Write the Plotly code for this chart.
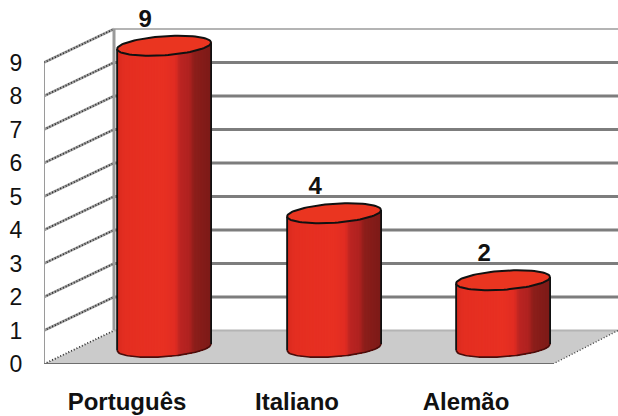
import numpy as np
import plotly.graph_objects as go

# Chart data
categories = ["Português", "Italiano", "Alemão"]
values = [9, 4, 2]
y_ticks = [0, 1, 2, 3, 4, 5, 6, 7, 8, 9]

# Oblique projection of the chart box
W, H = 618, 416
M_L, M_B = 44, 52
UNIT_PX = 33.5            # pixels per value unit
SHEAR_X = 70              # horizontal shift from the front plane to the back wall
SHEAR_V = 1.0             # vertical shift of the same, in value units
BAR_DEPTH = 0.53          # depth of the cylinder axes, 0 = front, 1 = back
BAR_LIFT = 0.5            # height of the cylinder bases above the front floor edge
FRONT_POS = [127, 297, 466]
RADIUS = 47
CAP_B = 9.5 / UNIT_PX
CAP_TILT = 3.2 / UNIT_PX
FLOOR_RIGHT = 553
RIGHT_EDGE = 618

STOPS_U = [0, 0.03, 0.08, 0.5, 0.62, 0.67, 0.77, 0.82, 1.0]
STOPS_C = [(190, 38, 28), (222, 44, 32), (228, 46, 33), (232, 48, 34), (224, 44, 34),
           (186, 36, 34), (176, 34, 32), (140, 30, 26), (124, 26, 24)]


def project(x, v, depth):
    return x + SHEAR_X * depth, v + SHEAR_V * depth


def shade(u):
    return "rgb(%d,%d,%d)" % tuple(
        round(float(np.interp(u, STOPS_U, [c[i] for c in STOPS_C]))) for i in range(3))


fig = go.Figure()


def poly(xs, ys, fill, line=None, width=0):
    fig.add_trace(go.Scatter(
        x=list(xs), y=list(ys), mode="lines", fill="toself", fillcolor=fill,
        line=dict(color=line or fill, width=width), hoverinfo="skip", cliponaxis=False))


def path(xs, ys, color, width, dash=None):
    fig.add_trace(go.Scatter(
        x=list(xs), y=list(ys), mode="lines",
        line=dict(color=color, width=width, dash=dash),
        hoverinfo="skip", cliponaxis=False))


# Floor
bx0, bv0 = project(M_L, 0, 1)
poly([M_L, FLOOR_RIGHT, RIGHT_EDGE, bx0], [0, 0, bv0, bv0], "#cbcbcb")

# Back wall gridlines, side wall gridlines
for t in y_ticks:
    bx, bv = project(M_L, t, 1)
    top = t == y_ticks[-1]
    path([bx, RIGHT_EDGE], [bv, bv], "#b4b4b4" if top or t == 0 else "#7d7d7d",
         2 if top or t == 0 else 3)
    if t > 0:
        path([M_L, bx], [t, bv], "#a0a0a0", 2.5)
    path([M_L, bx], [t, bv], "#2a2a2a", 1.8, "1px,2px")

# Wall uprights and floor edges
path([M_L, M_L], [0, y_ticks[-1]], "#9a9a9a", 2)
path([bx0, bx0], [bv0, bv0 + y_ticks[-1]], "#9a9a9a", 3)
path([FLOOR_RIGHT, RIGHT_EDGE], [0, bv0], "#444444", 1.4, "1px,2px")
path([M_L, FLOOR_RIGHT], [0, 0], "#6e6e6e", 2)

# Cylinders
for pos, val in zip(FRONT_POS, values):
    cx = pos + SHEAR_X * BAR_DEPTH
    base = BAR_LIFT
    top = base + val
    dx = np.linspace(-1, 1, 61)
    front = -CAP_B * np.sqrt(1 - dx**2) + CAP_TILT * dx

    # body: each band runs to the right edge and the next one paints over it
    for i in range(len(dx) - 1):
        xs = np.concatenate([cx + RADIUS * dx[i:], cx + RADIUS * dx[i:][::-1]])
        ys = np.concatenate([base + front[i:], top + front[i:][::-1]])
        poly(xs, ys, shade((dx[i] + dx[i + 1]) / 4 + 0.5))

    # cap
    t = np.linspace(0, 2 * np.pi, 90)
    capx = cx + RADIUS * np.cos(t)
    capy = top + CAP_B * np.sin(t) + CAP_TILT * np.cos(t)
    poly(capx, capy, "#ea3520", "#111111", 2)

    # silhouette
    path(cx + RADIUS * dx, base + front, "#4a0c0a", 1.6)
    path([cx - RADIUS, cx - RADIUS], [base + front[0], top + front[0]], "#111111", 1.8)
    path([cx + RADIUS, cx + RADIUS], [base + front[-1], top + front[-1]], "#111111", 1.8)

    # value label
    fig.add_trace(go.Scatter(
        x=[cx - 19], y=[top + 0.75], mode="text", text=[str(val)],
        textfont=dict(family="Liberation Sans", size=24, color="#111111", weight="bold"),
        hoverinfo="skip", cliponaxis=False))

fig.update_layout(
    width=W, height=H, margin=dict(l=M_L, r=0, t=0, b=M_B, pad=0),
    paper_bgcolor="white", plot_bgcolor="white", showlegend=False,
    xaxis=dict(range=[M_L, W], tickmode="array", tickvals=FRONT_POS, ticktext=categories,
               showgrid=False, zeroline=False, showline=False, ticks="outside",
               ticklen=16, tickcolor="rgba(0,0,0,0)", automargin=False,
               tickfont=dict(family="Liberation Sans", size=24, color="#111111", weight="bold")),
    yaxis=dict(range=[0, (H - M_B) / UNIT_PX], tickmode="array", tickvals=y_ticks,
               ticktext=[str(t) for t in y_ticks], showgrid=False, zeroline=False,
               showline=False, ticks="outside", ticklen=16, tickcolor="rgba(0,0,0,0)",
               automargin=False,
               tickfont=dict(family="Liberation Sans", size=23, color="#111111")),
)

fig.write_html("out.html", config=dict(displayModeBar=False))
